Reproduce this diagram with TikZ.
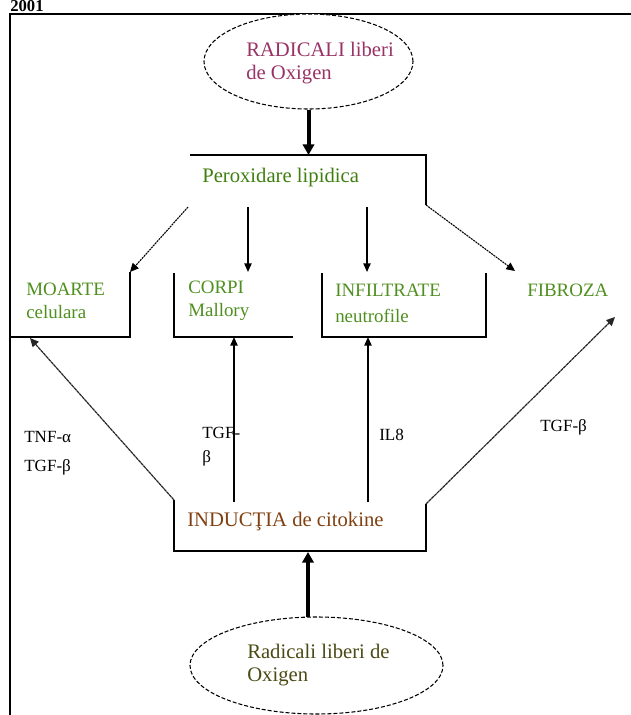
\documentclass[tikz,border=0pt]{standalone}
\usepackage{fontspec}
\setmainfont{Liberation Serif}
\usetikzlibrary{arrows.meta,shapes.geometric}
\definecolor{cpurple}{HTML}{993366}
\definecolor{cgreen}{HTML}{3F7F0F}
\definecolor{cgreenb}{HTML}{4F8F1F}
\definecolor{cbrown}{HTML}{804010}
\definecolor{colive}{HTML}{4A4A14}
\begin{document}
\begin{tikzpicture}[x=0.75pt,y=-0.75pt,
  mainfont/.style={font=\fontsize{15.5}{17.3}\selectfont},
  boxfont/.style={font=\fontsize{14.2}{17.3}\selectfont},
  lblfont/.style={font=\fontsize{12.8}{18}\selectfont},
  txt/.style={inner sep=0pt,anchor=west,align=left},
  ell/.style={ellipse,draw,line width=0.8pt,dash pattern=on 3pt off 1.5pt,fill=white,inner sep=0pt},
  bigarrow/.style={line width=3pt,-{Triangle[length=8pt,width=8.5pt]}},
  thinarrow/.style={line width=1.1pt,-{Triangle[length=6.5pt,width=5.5pt]}},
  dotarrow/.style={line width=0.8pt,dash pattern=on 1.5pt off 0.6pt,-{Triangle[length=6.5pt,width=6pt]}},
  diagline/.style={line width=0.9pt,black!85,dash pattern=on 2.5pt off 0.4pt,-{Triangle[length=6.5pt,width=6pt]}},
  boxline/.style={line width=1.1pt},
  frameline/.style={line width=2pt}]
\useasboundingbox (0,0) rectangle (631,715);
% year label
\node[inner sep=0pt,anchor=base west,font=\bfseries\fontsize{12.5}{14}\selectfont] (year) at (10,11.8) {2001};
% frame
\coordinate (fB) at (10,715);
\coordinate (fTL) at (10,14);
\coordinate (fTR) at (631,14);
\draw[frameline] (fB) -- (fTL) -- (fTR);
% ellipses
\node[ell,minimum width=156.75pt,minimum height=71.25pt] (topell) at (308.5,61.5) {};
\node[ell,minimum width=189.75pt,minimum height=72.75pt] (botell) at (316.5,665.5) {};
% texts
\node[txt,mainfont,text=cpurple] (t1) at (246,63.5) {RADICALI liberi\\de Oxigen};
\node[txt,mainfont,text=cgreen] (perox) at (202,178) {Peroxidare lipidica};
\node[txt,boxfont,text=cgreenb] (moarte) at (26,300.5) {MOARTE\\celulara};
\node[txt,boxfont,text=cgreenb] (corpi) at (188,300.5) {CORPI\\Mallory};
\node[txt,boxfont,text=cgreenb,font=\fontsize{14.2}{20}\selectfont] (infil) at (335,303.5) {INFILTRATE\\neutrofile};
\node[txt,boxfont,text=cgreenb] (fibro) at (527,290) {FIBROZA};
\node[txt,lblfont,font=\fontsize{12.8}{22}\selectfont] (l1) at (24,453) {TNF-α\\TGF-β};
\node[txt,lblfont] (l2) at (202,447) {TGF-\\β};
\node[txt,lblfont] (l3) at (379,435) {IL8};
\node[txt,lblfont] (l4) at (540,427) {TGF-β};
\node[txt,mainfont,text=cbrown] (induc) at (187,522) {INDUCŢIA de citokine};
\node[txt,mainfont,text=colive] (bot) at (247,665) {Radicali liberi de\\Oxigen};
% Peroxidare bracket
\coordinate (pxL) at (190,155);
\coordinate (pxIn) at (308.5,155);
\coordinate (pxR) at (426,155);
\coordinate (pxRB) at (426,205);
\draw[boxline] (pxL) -- (pxR) -- (pxRB);
% MOARTE bracket
\coordinate (mTR) at (130,272);
\coordinate (mBR) at (130,337);
\coordinate (mBL) at (10,337);
\draw[boxline] (mTR) -- (mBR) -- (mBL);
% CORPI bracket
\coordinate (cTL) at (174,273);
\coordinate (cBL) at (174,337);
\coordinate (cBR) at (293,337);
\draw[boxline] (cTL) -- (cBL) -- (cBR);
% INFILTRATE bracket
\coordinate (nTL) at (322,273);
\coordinate (nBL) at (322,337);
\coordinate (nBR) at (486,337);
\coordinate (nTR) at (486,273);
\draw[boxline] (nTL) -- (nBL) -- (nBR) -- (nTR);
% INDUCTIA bracket
\coordinate (iTL) at (174,500);
\coordinate (iBL) at (174,551);
\coordinate (iBR) at (426,551);
\coordinate (iTR) at (426,504);
\draw[boxline] (iTL) -- (iBL) -- (iBR) -- (iTR);
% arrow end points
\coordinate (o1) at (188,207);
\coordinate (o2) at (248,207);
\coordinate (o3) at (367,207);
\coordinate (c2in) at (248,272);
\coordinate (n2in) at (367,272);
\coordinate (fIn) at (515,271);
\coordinate (mIn) at (30,338);
\coordinate (u1) at (234,502);
\coordinate (u1t) at (234,337);
\coordinate (u2) at (368,502);
\coordinate (u2t) at (368,337);
\coordinate (fIn2) at (615,317);
\coordinate (bIn) at (308,617);
\coordinate (iIn) at (308,552);
% connectors
\draw[bigarrow] (topell.south) -- (pxIn);
\draw[dotarrow] (o1) -- (mTR);
\draw[thinarrow] (o2) -- (c2in);
\draw[thinarrow] (o3) -- (n2in);
\draw[dotarrow] (pxRB) -- (fIn);
\draw[diagline] (iTL) -- (mIn);
\draw[thinarrow] (u1) -- (u1t);
\draw[thinarrow] (u2) -- (u2t);
\draw[diagline] (iTR) -- (fIn2);
\draw[bigarrow] (bIn) -- (iIn);
\end{tikzpicture}
\end{document}
